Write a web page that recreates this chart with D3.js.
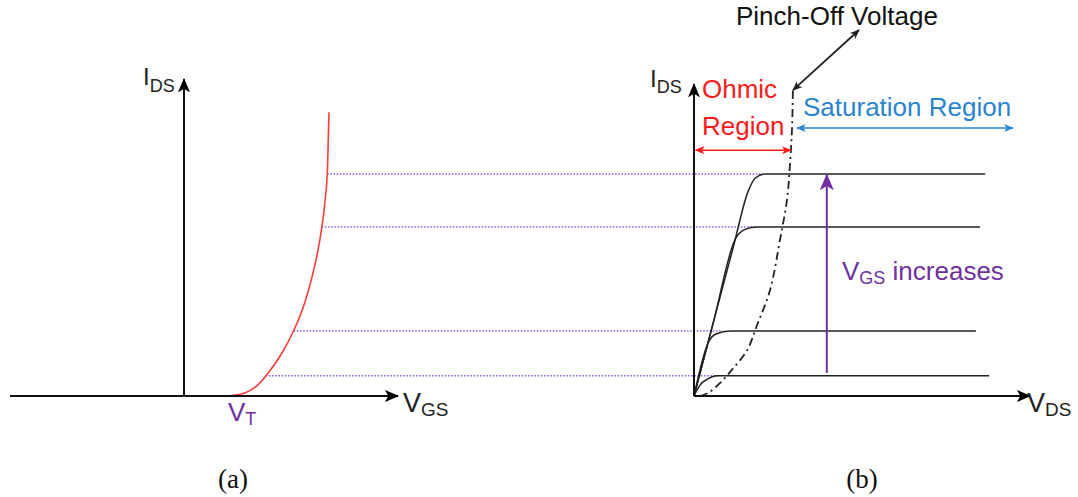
<!DOCTYPE html>
<html>
<head>
<meta charset="utf-8">
<script src="https://cdn.jsdelivr.net/npm/d3@7"></script>
<style>
  html, body { margin: 0; padding: 0; background: #fff; }
  svg { display: block; }
  text { font-family: "Liberation Sans", Arial, sans-serif; }
</style>
</head>
<body>
<div id="chart"></div>
<script>
// ── Data ──

// (a) transfer curve: [V_GS, I_DS]
var transferCurve = [[0.9, 0], [1.2, 0.08], [1.45, 0.3], [1.7, 0.73], [1.95, 1.28], [2.2, 2.0],
    [2.42, 2.85], [2.6, 3.85], [2.73, 4.85], [2.82, 5.9], [2.87, 6.9], [2.9, 8.6]];

// I_DS levels shared by both panels
var levels = [0.61, 1.97, 5.12, 6.73];
var levelVgs = [1.63, 2.19, 2.75, 2.86];     // where each level meets the red curve
var levelDotEnd = [0.78, 0.84, 1.9, 2.08];   // where the dotted guide stops in (b), V_DS

// (b) output curves: [V_DS, I_DS]
var outputCurves = [
    [[0, 0], [0.18, 0.33], [0.42, 0.52], [0.69, 0.61], [8.89, 0.61]],
    [[0, 0], [0.42, 1.6], [0.66, 1.88], [1.09, 1.97], [8.49, 1.97]],
    [[0, 0], [0.6, 2.3], [1.24, 4.75], [1.54, 5.05], [1.9, 5.12], [8.61, 5.12]],
    [[0, 0], [0.6, 2.3], [1.18, 4.5], [1.63, 6.2], [1.84, 6.6], [2.14, 6.73], [8.77, 6.73]]
];

// pinch-off locus (dash-dot)
var pinchCurve = [[0.18, 0], [0.42, 0.09], [0.78, 0.39], [1.14, 0.79], [1.6, 1.39],
    [1.9, 2.15], [2.29, 3.21], [2.59, 4.73], [2.8, 5.94], [2.89, 7.0], [2.95, 8.06], [2.98, 9.33]];

var pinchArrow = [[2.98, 9.27], [4.97, 11.09]];
var ohmicArrow = [[0.05, 7.45], [2.92, 7.45]];
var satArrow = [[3.1, 8.12], [9.61, 8.12]];
var vgsArrow = [[4.0, 0.7], [4.0, 6.7]];

var axisA = { x: [-3.48, 4.28], y: 9.6 };
var axisB = { x: [0, 10.12], y: 9.45 };

// ── Scales ──
var width = 1078, height = 497;
var yI = d3.scaleLinear().domain([0, 10]).range([396, 66]);
var xA = d3.scaleLinear().domain([-3.48, 4.28]).range([10, 398]);
var xB = d3.scaleLinear().domain([0, 10.12]).range([694, 1030]);

var svg = d3.select("#chart").append("svg")
    .attr("width", width)
    .attr("height", height);

// arrow markers
var defs = svg.append("defs");
function addMarker(id, color, size) {
    defs.append("marker")
        .attr("id", id)
        .attr("viewBox", "0 0 12 10")
        .attr("refX", 11)
        .attr("refY", 5)
        .attr("markerUnits", "userSpaceOnUse")
        .attr("markerWidth", size * 1.2)
        .attr("markerHeight", size)
        .attr("orient", "auto-start-reverse")
        .append("path")
        .attr("d", "M0,0 L12,5 L0,10 L3,5 Z")
        .style("fill", color);
}
addMarker("axisHead", "#000", 12);
addMarker("smallBlack", "#222", 8);
addMarker("redHead", "#ff1a1a", 8);
addMarker("blueHead", "#2a88d8", 8);
addMarker("purpleHead", "#7030a0", 14);

var lineA = d3.line().x(function(d) { return xA(d[0]); }).y(function(d) { return yI(d[1]); });
var lineB = d3.line().x(function(d) { return xB(d[0]); }).y(function(d) { return yI(d[1]); });

// dotted guides
levels.forEach(function(lv, i) {
    svg.append("line")
        .attr("x1", xA(levelVgs[i]))
        .attr("x2", xB(levelDotEnd[i]))
        .attr("y1", yI(lv))
        .attr("y2", yI(lv))
        .style("stroke", "#9460d8")
        .style("stroke-width", 1.5)
        .style("stroke-dasharray", "1.6,1.6");
});

// ── (a) ──
svg.append("path")
    .datum(transferCurve)
    .attr("d", lineA.curve(d3.curveMonotoneX))
    .style("fill", "none")
    .style("stroke", "#ff3b3b")
    .style("stroke-width", 1.6);

svg.append("line")
    .attr("x1", xA(axisA.x[0])).attr("x2", xA(axisA.x[1]))
    .attr("y1", yI(0)).attr("y2", yI(0))
    .style("stroke", "#111").style("stroke-width", 2)
    .attr("marker-end", "url(#axisHead)");
svg.append("line")
    .attr("x1", xA(0)).attr("x2", xA(0))
    .attr("y1", yI(0)).attr("y2", yI(axisA.y))
    .style("stroke", "#111").style("stroke-width", 2)
    .attr("marker-end", "url(#axisHead)");

// ── (b) ──
outputCurves.forEach(function(c) {
    svg.append("path")
        .datum(c)
        .attr("d", lineB.curve(d3.curveMonotoneX))
        .style("fill", "none")
        .style("stroke", "#222")
        .style("stroke-width", 1.5);
});

svg.append("path")
    .datum(pinchCurve)
    .attr("d", lineB.curve(d3.curveCatmullRom))
    .style("fill", "none")
    .style("stroke", "#222")
    .style("stroke-width", 1.8)
    .style("stroke-dasharray", "8,4,2,4");

function arrow(pts, color, w, marker, both) {
    var l = svg.append("line")
        .attr("x1", xB(pts[0][0])).attr("y1", yI(pts[0][1]))
        .attr("x2", xB(pts[1][0])).attr("y2", yI(pts[1][1]))
        .style("stroke", color).style("stroke-width", w)
        .attr("marker-end", "url(#" + marker + ")");
    if (both) l.attr("marker-start", "url(#" + marker + ")");
}
arrow(pinchArrow, "#222", 1.8, "smallBlack", true);
arrow(ohmicArrow, "#ff1a1a", 1.5, "redHead", true);
arrow(satArrow, "#2a88d8", 1.5, "blueHead", true);
arrow(vgsArrow, "#7030a0", 2, "purpleHead", false);

svg.append("line")
    .attr("x1", xB(0)).attr("x2", xB(axisB.x[1]))
    .attr("y1", yI(0)).attr("y2", yI(0))
    .style("stroke", "#111").style("stroke-width", 2)
    .attr("marker-end", "url(#axisHead)");
svg.append("line")
    .attr("x1", xB(0)).attr("x2", xB(0))
    .attr("y1", yI(0)).attr("y2", yI(axisB.y))
    .style("stroke", "#111").style("stroke-width", 2)
    .attr("marker-end", "url(#axisHead)");

// ── Labels ──
function subLabel(x, y, main, sub, color, size, subSize, dy) {
    var t = svg.append("text")
        .attr("x", x).attr("y", y)
        .style("fill", color)
        .style("font-size", size + "px");
    t.append("tspan").text(main);
    t.append("tspan")
        .attr("dy", dy)
        .style("font-size", subSize + "px")
        .text(sub);
    return t;
}
subLabel(143, 85, "I", "DS", "#222", 24, 18, 7);
subLabel(650, 87, "I", "DS", "#222", 24, 18, 6);
subLabel(403, 412, "V", "GS", "#222", 27, 19, 4);
subLabel(228, 421, "V", "T", "#7030a0", 26, 18, 4);
subLabel(1027, 412, "V", "DS", "#222", 27, 19, 4);

var inc = subLabel(842, 280, "V", "GS", "#7030a0", 26, 18, 4);
inc.append("tspan").attr("dy", -4).text(" increases");

svg.append("text").attr("x", 736).attr("y", 25)
    .style("font-size", "26px").style("fill", "#111")
    .text("Pinch-Off Voltage");
svg.append("text").attr("x", 702).attr("y", 98)
    .style("font-size", "26px").style("fill", "#ff1a1a")
    .text("Ohmic");
svg.append("text").attr("x", 702).attr("y", 135)
    .style("font-size", "26px").style("fill", "#ff1a1a")
    .text("Region");
svg.append("text").attr("x", 803).attr("y", 116)
    .style("font-size", "26px").style("fill", "#2a84d2")
    .text("Saturation Region");

svg.append("text").attr("x", 233).attr("y", 488)
    .attr("text-anchor", "middle")
    .style("font-family", "'Liberation Serif', 'Times New Roman', serif")
    .style("font-size", "27px").style("fill", "#111")
    .text("(a)");
svg.append("text").attr("x", 862).attr("y", 488)
    .attr("text-anchor", "middle")
    .style("font-family", "'Liberation Serif', 'Times New Roman', serif")
    .style("font-size", "27px").style("fill", "#111")
    .text("(b)");
</script>
</body>
</html>
